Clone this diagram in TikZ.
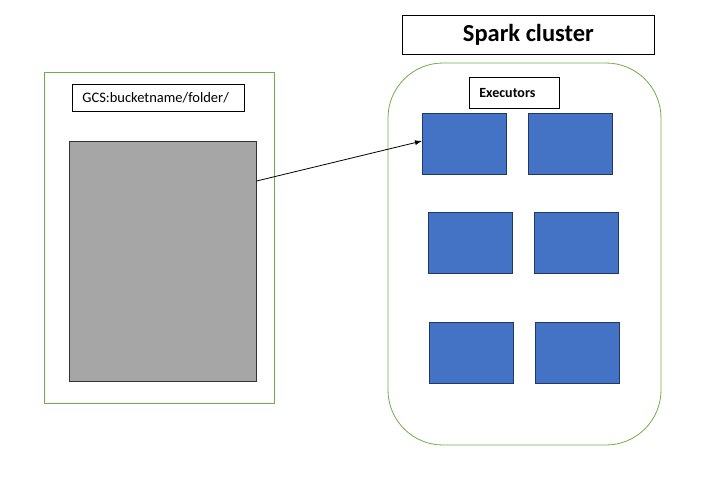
\documentclass[tikz,border=0pt]{standalone}
\usepackage{fontspec}
\setmainfont{Carlito}
\usetikzlibrary{arrows.meta}
\definecolor{grn}{HTML}{70AD47}
\definecolor{blu}{HTML}{4472C4}
\definecolor{bluedge}{HTML}{1F3864}
\definecolor{gry}{HTML}{A6A6A6}
\tikzset{
  px/.style={x=1pt,y=-1pt},
  greenbox/.style={draw=grn, line width=0.8pt},
  labelbox/.style={draw=black, line width=0.8pt, fill=white, inner sep=0pt},
  exebox/.style={draw=bluedge, fill=blu, line width=0.7pt, minimum width=84pt, minimum height=61pt, anchor=north west, inner sep=0pt},
}
\begin{document}
\begin{tikzpicture}[px]
\useasboundingbox (0,0) rectangle (720,488);
% left container
\draw[greenbox] (44,72) rectangle (274,403);
\node[labelbox, minimum width=172pt, minimum height=27pt, anchor=north west, font=\fontsize{14.5}{16}\selectfont, align=left, text width=152pt] (gcs) at (72,84) {GCS:bucketname/folder/};
\node[draw=black!80, fill=gry, line width=0.6pt, minimum width=187pt, minimum height=240pt, anchor=north west, inner sep=0pt] (data) at (69,141) {};
% spark cluster
\node[labelbox, minimum width=252pt, minimum height=39pt, anchor=north west, font=\fontsize{24.5}{28}\selectfont\bfseries] (spark) at (402,15) {Spark cluster};
\draw[greenbox, rounded corners=55pt] (388,63) rectangle (661,445);
\node[labelbox, minimum width=90pt, minimum height=31pt, anchor=north west, font=\fontsize{14}{16}\selectfont\bfseries, align=left, text width=70pt] (exec) at (469,77) {Executors};
\node[exebox] (e1) at (422,113) {};
\node[exebox] (e2) at (528,113) {};
\node[exebox] (e3) at (428,212) {};
\node[exebox] (e4) at (534,212) {};
\node[exebox] (e5) at (429,322) {};
\node[exebox] (e6) at (535,322) {};
% arrow
\coordinate (src) at ([yshift=-40pt]data.north east);
\coordinate (dst) at ([yshift=-28pt]e1.north west);
\draw[-{Latex[length=7pt,width=5pt]}, line width=0.8pt] (src) -- (dst);
\end{tikzpicture}
\end{document}
